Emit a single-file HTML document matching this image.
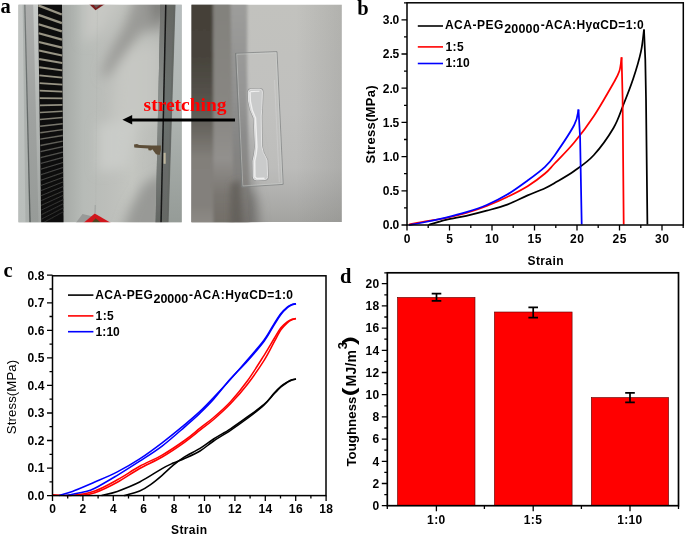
<!DOCTYPE html>
<html><head><meta charset="utf-8"><title>Figure</title>
<style>html,body{margin:0;padding:0;background:#fff}svg{display:block}text{fill:#000}</style></head>
<body>
<svg width="685" height="535" viewBox="0 0 685 535">
<rect width="685" height="535" fill="#fff"/>
<defs>
<clipPath id="cp1"><rect x="18.5" y="4.8" width="163.2" height="217.45"/></clipPath>
<clipPath id="cp2"><rect x="191.5" y="4.8" width="150.3" height="217.45"/></clipPath>
<filter id="bl0" x="-50%" y="-50%" width="200%" height="200%"><feGaussianBlur stdDeviation="0.45"/></filter>
<filter id="bl1" x="-50%" y="-50%" width="200%" height="200%"><feGaussianBlur stdDeviation="0.7"/></filter>
<filter id="bl2" x="-50%" y="-50%" width="200%" height="200%"><feGaussianBlur stdDeviation="1.5"/></filter>
<filter id="bl3" x="-50%" y="-50%" width="200%" height="200%"><feGaussianBlur stdDeviation="3"/></filter>
<filter id="bl5" x="-50%" y="-50%" width="200%" height="200%"><feGaussianBlur stdDeviation="6"/></filter>
<filter id="bl9" x="-50%" y="-50%" width="200%" height="200%"><feGaussianBlur stdDeviation="10"/></filter>
<linearGradient id="w1" gradientUnits="userSpaceOnUse" x1="62" y1="0" x2="160" y2="0"><stop offset="0" stop-color="#a5a8a5"/><stop offset="0.1" stop-color="#adb1ad"/><stop offset="0.22" stop-color="#b7bbb7"/><stop offset="0.45" stop-color="#bcbeba"/><stop offset="0.72" stop-color="#c3c5c0"/><stop offset="1" stop-color="#b9bbb7"/></linearGradient>
<linearGradient id="ls1" x1="0" y1="0" x2="0" y2="1"><stop offset="0" stop-color="#c2c5c3"/><stop offset="1" stop-color="#b9bebb"/></linearGradient>
<linearGradient id="ls2" x1="0" y1="0" x2="0" y2="1"><stop offset="0" stop-color="#adaead"/><stop offset="0.5" stop-color="#9fa2a0"/><stop offset="1" stop-color="#979b98"/></linearGradient>
<linearGradient id="ls3" x1="0" y1="0" x2="0" y2="1"><stop offset="0" stop-color="#c9ccca" stop-opacity="0.95"/><stop offset="0.5" stop-color="#bbbfbc" stop-opacity="0.7"/><stop offset="1" stop-color="#a7aba8" stop-opacity="0.6"/></linearGradient>
<linearGradient id="ln1" x1="0" y1="0" x2="0" y2="1"><stop offset="0" stop-color="#767b7a"/><stop offset="1" stop-color="#545a58"/></linearGradient>
<linearGradient id="rbL" x1="0" y1="0" x2="0" y2="1"><stop offset="0" stop-color="#6e6f6c"/><stop offset="0.45" stop-color="#8b908d"/><stop offset="1" stop-color="#626562"/></linearGradient>
<linearGradient id="rbR" x1="0" y1="0" x2="0" y2="1"><stop offset="0" stop-color="#656763"/><stop offset="0.45" stop-color="#6b716f"/><stop offset="1" stop-color="#656764"/></linearGradient>
<linearGradient id="rs1" x1="0" y1="0" x2="0" y2="1"><stop offset="0" stop-color="#b7bdbe"/><stop offset="0.45" stop-color="#b0b6b3"/><stop offset="1" stop-color="#959b97"/></linearGradient>
<linearGradient id="p2base" x1="0" y1="0" x2="0" y2="1"><stop offset="0" stop-color="#c2c2be"/><stop offset="0.5" stop-color="#c0c0be"/><stop offset="0.75" stop-color="#bcbcba"/><stop offset="0.88" stop-color="#afafad"/><stop offset="1" stop-color="#a3a3a0"/></linearGradient>
<linearGradient id="p2r" x1="0" y1="0" x2="1" y2="0"><stop offset="0" stop-color="#7c7c78" stop-opacity="0"/><stop offset="1" stop-color="#7c7c78" stop-opacity="0.24"/></linearGradient>
<linearGradient id="bA" x1="0" y1="0" x2="0" y2="1"><stop offset="0" stop-color="#433f37"/><stop offset="0.26" stop-color="#47433b"/><stop offset="0.44" stop-color="#55524b"/><stop offset="0.56" stop-color="#66635d"/><stop offset="0.7" stop-color="#827f7a"/><stop offset="0.9" stop-color="#83807b"/><stop offset="1" stop-color="#8f8c88"/></linearGradient>
<linearGradient id="bB" x1="0" y1="0" x2="0" y2="1"><stop offset="0" stop-color="#82817c"/><stop offset="0.5" stop-color="#888682"/><stop offset="0.7" stop-color="#92908d"/><stop offset="0.86" stop-color="#797570"/><stop offset="1" stop-color="#716d67"/></linearGradient>
<linearGradient id="bC" x1="0" y1="0" x2="0" y2="1"><stop offset="0" stop-color="#9e9e9c"/><stop offset="0.45" stop-color="#8f8f8e"/><stop offset="0.6" stop-color="#868685"/><stop offset="0.8" stop-color="#817f7c"/><stop offset="1" stop-color="#73706c"/></linearGradient>
</defs>
<g clip-path="url(#cp1)">
<rect x="18" y="4" width="165" height="220" fill="url(#w1)"/>
<g filter="url(#bl5)">
<path d="M84,-6L122,-6L104,30L84,44Z" fill="#c9cac6" opacity="0.85"/>
<path d="M118,52L160,44L160,122L112,128Z" fill="#c8c9c4" opacity="0.7"/>
<path d="M98,124L136,120L128,168L98,172Z" fill="#cbceca" opacity="0.85"/>
<path d="M136,-8L172,-8L166,30L142,32L128,50L116,66L108,76L102,78L104,66L112,48L124,26Z" fill="#93938f" opacity="0.85"/>
<path d="M150,-8L172,-8L168,18L152,22Z" fill="#7b7b77" opacity="0.8"/>
<path d="M144,184L166,172L164,236L120,236L130,208Z" fill="#939592" opacity="0.9"/>
</g>
<path d="M97.5,5L95.5,222" stroke="#aaada9" stroke-width="0.8" opacity="0.25" filter="url(#bl0)"/>
<g filter="url(#bl0)">
<path d="M18,4L26,4L29,224L18,224Z" fill="url(#ls1)"/>
<path d="M24.8,4L38.2,4L41.6,224L30,224Z" fill="url(#ls2)"/>
<path d="M33.2,4L38.2,4L41.6,224L38.6,224Z" fill="url(#ls3)"/>
<path d="M22.6,4L24.8,4L30,224L25.5,224Z" fill="#a0a5a2" opacity="0.55" filter="url(#bl1)"/>
<path d="M24.8,4L30.1,224" stroke="url(#ln1)" stroke-width="1.3"/>
<path d="M38,4L62,4L63.6,224L41.2,224Z" fill="#0f0f0f"/>
<path d="M38.3,5.4L61.8,14.5" stroke="#989484" stroke-width="2.40"/>
<path d="M38.5,14.9L61.9,23.1" stroke="#989484" stroke-width="2.32"/>
<path d="M38.6,24.2L61.9,31.4" stroke="#989484" stroke-width="2.25"/>
<path d="M38.7,33.2L62.0,39.6" stroke="#989484" stroke-width="2.18"/>
<path d="M38.9,42.0L62.1,47.6" stroke="#989484" stroke-width="2.11"/>
<path d="M39.0,50.6L62.1,55.4" stroke="#989484" stroke-width="2.04"/>
<path d="M39.1,59.0L62.2,63.0" stroke="#989484" stroke-width="1.98"/>
<path d="M39.2,67.2L62.3,70.4" stroke="#989484" stroke-width="1.91"/>
<path d="M39.3,75.3L62.3,77.6" stroke="#989484" stroke-width="1.85"/>
<path d="M39.5,83.1L62.4,84.7" stroke="#989484" stroke-width="1.79"/>
<path d="M39.6,90.7L62.4,91.6" stroke="#989484" stroke-width="1.73"/>
<path d="M39.7,98.1L62.5,98.3" stroke="#989484" stroke-width="1.67"/>
<path d="M39.8,105.4L62.5,104.9" stroke="#928f80" stroke-width="1.61"/>
<path d="M39.9,112.5L62.6,111.3" stroke="#898779" stroke-width="1.56"/>
<path d="M40.0,119.4L62.6,117.6" stroke="#807e72" stroke-width="1.50"/>
<path d="M40.1,126.2L62.7,123.7" stroke="#78766c" stroke-width="1.45"/>
<path d="M40.2,132.8L62.7,129.6" stroke="#706e65" stroke-width="1.40"/>
<path d="M40.3,139.2L62.8,135.5" stroke="#68675f" stroke-width="1.35"/>
<path d="M40.4,145.5L62.8,141.1" stroke="#605f59" stroke-width="1.30"/>
<path d="M40.4,151.6L62.9,146.7" stroke="#585853" stroke-width="1.25"/>
<path d="M40.5,157.6L62.9,152.1" stroke="#51514d" stroke-width="1.20"/>
<path d="M40.6,163.5L63.0,157.4" stroke="#4c4c49" stroke-width="1.16"/>
<path d="M40.7,169.2L63.0,162.5" stroke="#494947" stroke-width="1.11"/>
<path d="M40.8,174.7L63.0,167.6" stroke="#464644" stroke-width="1.07"/>
<path d="M40.9,180.2L63.1,172.5" stroke="#444441" stroke-width="1.03"/>
<path d="M40.9,185.5L63.1,177.3" stroke="#41413f" stroke-width="1.00"/>
<path d="M41.0,190.6L63.2,181.9" stroke="#3e3e3c" stroke-width="1.00"/>
<path d="M41.1,195.7L63.2,186.5" stroke="#3c3c3a" stroke-width="1.00"/>
<path d="M41.2,200.6L63.2,191.0" stroke="#393937" stroke-width="1.00"/>
<path d="M41.2,205.4L63.3,195.3" stroke="#373735" stroke-width="1.00"/>
<path d="M41.3,210.1L63.3,199.6" stroke="#343433" stroke-width="1.00"/>
<path d="M41.4,214.7L63.3,203.7" stroke="#323231" stroke-width="1.00"/>
<path d="M41.4,219.2L63.4,207.8" stroke="#2f2f2e" stroke-width="1.00"/>
<path d="M41.5,223.6L63.4,211.7" stroke="#2d2d2c" stroke-width="1.00"/>
<path d="M160.4,4L175.6,4L168.6,224L155.6,224Z" fill="url(#rbR)"/>
<path d="M160.4,4L165.6,4L160.8,224L155.6,224Z" fill="url(#rbL)"/>
<path d="M175.4,4L183,4L183,224L168.4,224Z" fill="url(#rs1)"/>
<path d="M173.6,4L175.6,4L168.6,224L166.8,224Z" fill="#606461" opacity="0.6"/>
<path d="M165.8,4L161,224" stroke="#161717" stroke-width="1.5"/>
<path d="M89,4L105,4L95.5,10.3Z" fill="#7a1c1e"/>
<path d="M93,4L101,4L96,8Z" fill="#675654"/>
<path d="M75,224L82.5,214L93,216.4L88,224Z" fill="#989a98"/>
<path d="M82.2,224L94.7,213.5L112.8,224Z" fill="#d0161f"/>
<path d="M90.5,224L95.6,218.2L102.6,224Z" fill="#4e4622"/>
<path d="M95.2,205L95,213.4" stroke="#969b98" stroke-width="0.8"/>
<path d="M134,144.6L137,144L139.2,145L152,145.4L160.9,145.6L160.9,150L159.6,154.9L156,154.3L152.3,149.3L151,150.5L148.5,150.3L148.2,148.5L137,147.7L134.3,147.4Z" fill="#5c4e37"/>
<rect x="163.6" y="152.8" width="2.1" height="11" fill="#beb69d"/>
</g>
</g>
<g clip-path="url(#cp2)">
<rect x="191" y="4" width="152" height="218" fill="url(#p2base)"/>
<rect x="296" y="4" width="47" height="218" fill="url(#p2r)"/>
<g filter="url(#bl5)">
<path d="M242,150L249,172L257,204L259,244L232,244Z" fill="#6d6b68" opacity="0.95"/>
<path d="M244,110L256,150L252,190L240,190Z" fill="#939392" opacity="0.6"/>
</g>
<g filter="url(#bl2)">
<path d="M186,-4L247.3,-4L247,70L249.5,228L186,228Z" fill="url(#bC)"/>
</g>
<g filter="url(#bl2)">
<path d="M186,-4L230.3,-4L234,228L186,228Z" fill="url(#bB)"/>
<path d="M186,-4L213,-4L213.4,228L186,228Z" fill="url(#bA)"/>
</g>
<g filter="url(#bl3)">
<path d="M231,184L240,180L243,228L230,228Z" fill="#615d58" opacity="0.85"/>
</g>
<g filter="url(#bl0)">
<path d="M235.6,53.2L277,51.6L283.2,184.4L241.8,187Z" fill="#c8cbca" fill-opacity="0.08" stroke="#848686" stroke-width="0.8"/>
<path d="M236.7,54.3L276.1,52.8L282.1,183.4L242.8,185.9Z" fill="none" stroke="#d6d9d8" stroke-width="0.9" opacity="0.45"/>
<path d="M235.6,53.2L241.8,187" stroke="#787b7a" stroke-width="0.8" fill="none"/>
<path d="M274.5,80L279.3,182" stroke="#d4d5d4" stroke-width="0.9" fill="none" opacity="0.5"/>
<path d="M248.4,92Q248.4,89.6 251,89.4L260,89.2Q262.4,89.2 262.4,92L262,103Q261.8,110 261.2,116L261.6,146Q262.2,152 267,160L267.6,176.5Q267.6,179.2 265.2,179.5L256.5,179.9Q253.4,179.9 253.3,177L253,161Q254.8,154 255.4,147L254.1,118Q249.8,110 248.6,101Z" fill="none" stroke="#8c8d8d" stroke-width="2.4" opacity="0.7"/>
<path d="M248.4,92Q248.4,89.6 251,89.4L260,89.2Q262.4,89.2 262.4,92L262,103Q261.8,110 261.2,116L261.6,146Q262.2,152 267,160L267.6,176.5Q267.6,179.2 265.2,179.5L256.5,179.9Q253.4,179.9 253.3,177L253,161Q254.8,154 255.4,147L254.1,118Q249.8,110 248.6,101Z" fill="#cacbcb" stroke="#e2e2e2" stroke-width="1"/>
<path d="M250.4,91.6L259.5,91.2" fill="none" stroke="#f0f0f0" stroke-width="1.1"/>
<path d="M250,92L250.3,101Q251.4,110 255.5,118L256.9,147Q256.5,154 254.7,161L254.9,177L256.8,178.6L264.5,178.2" fill="none" stroke="#f0f0f0" stroke-width="1.5" opacity="0.95"/>
</g>
</g>
<path d="M235,120.05H130" stroke="#000" stroke-width="3.1"/>
<path d="M122.4,119.8L132.2,115.1L132.2,124.6Z" fill="#000"/>
<text x="143.6" y="110.7" textLength="83" lengthAdjust="spacingAndGlyphs" style="font-family:'Liberation Serif',serif;font-weight:bold;font-size:19.6px;fill:#ff0000">stretching</text>
<g id="pb">
<path d="M428.5,225.0 C431.4,224.2 439.6,221.4 445.9,219.9 C452.2,218.4 459.5,217.3 466.3,215.8 C473.1,214.3 479.9,212.6 486.7,210.7 C493.5,208.8 500.4,207.1 507.2,204.6 C514.0,202.1 521.3,198.1 527.6,195.4 C533.9,192.7 540.5,190.3 545.0,188.2 C549.5,186.1 549.7,185.9 554.6,183.0 C559.5,180.1 567.7,175.7 574.2,171.0 C580.8,166.3 587.4,162.2 593.9,155.0 C600.4,147.8 608.6,136.3 613.5,128.0 C618.4,119.7 620.0,113.2 623.3,105.0 C626.6,96.8 630.1,87.9 633.1,79.0 C636.1,70.1 639.2,59.6 641.0,51.4 C642.8,43.1 643.5,33.1 644.0,29.5" fill="none" stroke="#000" stroke-width="1.75" stroke-linejoin="round"/>
<path d="M644.0,29.5 L645.3,60.0 L646.0,98.5 L647.4,224.5" fill="none" stroke="#000" stroke-width="1.75" stroke-linejoin="round"/>
<path d="M409.0,224.6 C411.7,224.1 419.2,222.5 425.4,221.4 C431.5,220.3 439.1,219.4 445.9,218.0 C452.7,216.6 459.5,215.0 466.3,213.0 C473.1,211.0 479.9,208.7 486.7,206.0 C493.5,203.3 500.4,200.3 507.2,197.0 C514.0,193.7 521.3,190.1 527.6,186.2 C533.9,182.3 540.5,177.3 545.0,173.5 C549.5,169.7 549.7,168.7 554.6,163.5 C559.5,158.3 567.7,150.4 574.2,142.5 C580.8,134.6 587.4,125.9 593.9,116.0 C600.4,106.1 609.2,90.5 613.5,83.0 C617.8,75.5 618.0,75.3 619.4,71.0 C620.8,66.7 621.2,59.6 621.6,57.3" fill="none" stroke="#ff0000" stroke-width="1.75" stroke-linejoin="round"/>
<path d="M621.6,57.3 L622.6,98.5 L623.7,224.5" fill="none" stroke="#ff0000" stroke-width="1.75" stroke-linejoin="round"/>
<path d="M409.0,225.0 C411.7,224.5 419.2,223.2 425.4,222.0 C431.5,220.8 439.1,219.2 445.9,217.6 C452.7,216.0 459.5,214.3 466.3,212.2 C473.1,210.1 479.9,207.9 486.7,205.0 C493.5,202.1 500.4,198.7 507.2,194.6 C514.0,190.5 521.3,185.1 527.6,180.5 C533.9,175.9 540.5,171.0 545.0,166.8 C549.5,162.6 549.7,162.4 554.6,155.4 C559.5,148.4 570.2,132.7 574.2,125.0 C578.2,117.3 577.8,112.1 578.5,109.5" fill="none" stroke="#0000ff" stroke-width="1.75" stroke-linejoin="round"/>
<path d="M578.5,109.5 L580.1,137.7 L581.7,224.5" fill="none" stroke="#0000ff" stroke-width="1.75" stroke-linejoin="round"/>
<rect x="407.0" y="2.8" width="276.29999999999995" height="222.2" fill="none" stroke="#000" stroke-width="1.5"/>
<path d="M407.0,225.0h-5.5M407.0,190.8h-5.5M407.0,156.6h-5.5M407.0,122.4h-5.5M407.0,88.2h-5.5M407.0,54.0h-5.5M407.0,19.8h-5.5M407.0,207.9h-3M407.0,173.7h-3M407.0,139.5h-3M407.0,105.3h-3M407.0,71.1h-3M407.0,36.9h-3M407.0,2.8h-3M407.0,225.0v5.5M449.5,225.0v5.5M492.0,225.0v5.5M534.5,225.0v5.5M577.0,225.0v5.5M619.5,225.0v5.5M662.0,225.0v5.5M428.2,225.0v3M470.8,225.0v3M513.2,225.0v3M555.8,225.0v3M598.2,225.0v3M640.8,225.0v3M683.2,225.0v3" stroke="#000" stroke-width="1.3" fill="none"/>
<text x="399.3" y="229.3" text-anchor="end" textLength="16.5" lengthAdjust="spacing" style="font-family:'Liberation Sans',sans-serif;font-weight:bold;font-size:12px">0.0</text>
<text x="399.3" y="195.1" text-anchor="end" textLength="16.5" lengthAdjust="spacing" style="font-family:'Liberation Sans',sans-serif;font-weight:bold;font-size:12px">0.5</text>
<text x="399.3" y="160.9" text-anchor="end" textLength="16.5" lengthAdjust="spacing" style="font-family:'Liberation Sans',sans-serif;font-weight:bold;font-size:12px">1.0</text>
<text x="399.3" y="126.7" text-anchor="end" textLength="16.5" lengthAdjust="spacing" style="font-family:'Liberation Sans',sans-serif;font-weight:bold;font-size:12px">1.5</text>
<text x="399.3" y="92.5" text-anchor="end" textLength="16.5" lengthAdjust="spacing" style="font-family:'Liberation Sans',sans-serif;font-weight:bold;font-size:12px">2.0</text>
<text x="399.3" y="58.3" text-anchor="end" textLength="16.5" lengthAdjust="spacing" style="font-family:'Liberation Sans',sans-serif;font-weight:bold;font-size:12px">2.5</text>
<text x="399.3" y="24.1" text-anchor="end" textLength="16.5" lengthAdjust="spacing" style="font-family:'Liberation Sans',sans-serif;font-weight:bold;font-size:12px">3.0</text>
<text x="407.0" y="242.5" text-anchor="middle" textLength="6.9" lengthAdjust="spacing" style="font-family:'Liberation Sans',sans-serif;font-weight:bold;font-size:12px">0</text>
<text x="449.5" y="242.5" text-anchor="middle" textLength="6.9" lengthAdjust="spacing" style="font-family:'Liberation Sans',sans-serif;font-weight:bold;font-size:12px">5</text>
<text x="492.0" y="242.5" text-anchor="middle" textLength="13.8" lengthAdjust="spacing" style="font-family:'Liberation Sans',sans-serif;font-weight:bold;font-size:12px">10</text>
<text x="534.5" y="242.5" text-anchor="middle" textLength="13.8" lengthAdjust="spacing" style="font-family:'Liberation Sans',sans-serif;font-weight:bold;font-size:12px">15</text>
<text x="577.0" y="242.5" text-anchor="middle" textLength="13.8" lengthAdjust="spacing" style="font-family:'Liberation Sans',sans-serif;font-weight:bold;font-size:12px">20</text>
<text x="619.5" y="242.5" text-anchor="middle" textLength="13.8" lengthAdjust="spacing" style="font-family:'Liberation Sans',sans-serif;font-weight:bold;font-size:12px">25</text>
<text x="662.0" y="242.5" text-anchor="middle" textLength="13.8" lengthAdjust="spacing" style="font-family:'Liberation Sans',sans-serif;font-weight:bold;font-size:12px">30</text>
<text x="545.5" y="265.2" text-anchor="middle" textLength="36" lengthAdjust="spacing" style="font-family:'Liberation Sans',sans-serif;font-weight:bold;font-size:12px">Strain</text>
<text transform="translate(374.7,124.5) rotate(-90)" text-anchor="middle" textLength="78" lengthAdjust="spacing" style="font-family:'Liberation Sans',sans-serif;font-weight:bold;font-size:13px">Stress(MPa)</text>
<path d="M417.8,26H443" stroke="#000" stroke-width="1.6"/>
<path d="M417.8,46.9H443" stroke="#ff0000" stroke-width="1.6"/>
<path d="M417.8,63.5H443" stroke="#0000ff" stroke-width="1.6"/>
<text x="444.9" y="29.4" textLength="58.5" lengthAdjust="spacing" style="font-family:'Liberation Sans',sans-serif;font-weight:bold;font-size:12px">ACA-PEG</text>
<text x="504.2" y="32.8" textLength="35.4" lengthAdjust="spacing" style="font-family:'Liberation Sans',sans-serif;font-weight:bold;font-size:12px;font-size:12.5px">20000</text>
<text x="540.7" y="29.4" textLength="103" lengthAdjust="spacing" style="font-family:'Liberation Sans',sans-serif;font-weight:bold;font-size:12px">-ACA:HyαCD=1:0</text>
<text x="445.4" y="50.8" textLength="18.2" lengthAdjust="spacing" style="font-family:'Liberation Sans',sans-serif;font-weight:bold;font-size:12px">1:5</text>
<text x="445.4" y="66.9" textLength="24.2" lengthAdjust="spacing" style="font-family:'Liberation Sans',sans-serif;font-weight:bold;font-size:12px">1:10</text>
</g>
<g id="pc">
<path d="M101.6,495.5 C104.2,494.8 111.0,493.6 117.3,491.4 C123.6,489.1 132.2,485.8 139.7,482.0 C147.2,478.2 156.5,471.8 162.1,468.6 C167.7,465.4 169.6,464.7 173.3,463.0 C177.0,461.3 180.1,460.5 184.5,458.5 C188.9,456.5 195.2,453.9 200.0,451.0 C204.8,448.1 208.5,444.4 213.6,441.0 C218.7,437.6 224.9,434.1 230.5,430.3 C236.1,426.6 241.7,422.7 247.3,418.5 C252.9,414.3 259.6,409.1 264.1,404.9 C268.6,400.6 271.4,396.1 274.2,393.0 C277.0,389.9 278.7,388.2 280.9,386.3 C283.1,384.4 285.8,382.9 287.6,381.8 C289.5,380.7 290.6,380.2 292.0,379.8 C293.4,379.4 295.3,379.2 296.0,379.1" fill="none" stroke="#000" stroke-width="1.55" stroke-linejoin="round"/>
<path d="M296.0,379.1 C295.3,379.2 293.4,379.5 292.0,380.0 C290.6,380.5 289.5,381.0 287.6,382.2 C285.8,383.4 283.1,385.1 280.9,387.0 C278.7,388.9 277.0,390.9 274.2,393.8 C271.4,396.7 268.6,400.5 264.1,404.4 C259.6,408.3 252.9,412.9 247.3,417.0 C241.7,421.1 236.1,425.1 230.5,428.8 C224.9,432.5 218.7,435.7 213.6,439.0 C208.5,442.3 204.8,445.4 200.0,448.4 C195.2,451.4 188.9,454.1 184.5,456.9 C180.1,459.7 177.0,462.1 173.3,465.2 C169.6,468.3 165.8,472.1 162.1,475.3 C158.4,478.5 154.6,481.7 150.9,484.3 C147.2,486.9 144.2,489.1 139.7,491.0 C135.2,492.9 126.6,494.8 124.0,495.5" fill="none" stroke="#000" stroke-width="1.55" stroke-linejoin="round"/>
<path d="M53.0,494.8 C56.2,494.9 65.4,495.9 72.4,495.3 C79.4,494.7 87.3,493.6 94.8,491.0 C102.3,488.4 109.8,483.9 117.3,479.8 C124.8,475.7 132.2,470.4 139.7,466.3 C147.2,462.2 154.6,459.4 162.1,455.1 C169.6,450.8 178.2,445.0 184.5,440.5 C190.8,436.0 195.2,432.0 200.0,428.2 C204.8,424.4 208.5,421.9 213.6,417.5 C218.7,413.1 224.9,407.8 230.5,401.7 C236.1,395.6 241.7,388.7 247.3,381.0 C252.9,373.3 259.6,362.4 264.1,355.3 C268.6,348.2 271.4,343.1 274.2,338.5 C277.0,333.9 278.7,330.5 280.9,327.7 C283.1,324.9 285.8,322.9 287.6,321.5 C289.5,320.1 290.6,319.8 292.0,319.3 C293.4,318.8 295.3,318.7 296.0,318.6" fill="none" stroke="#ff0000" stroke-width="1.55" stroke-linejoin="round"/>
<path d="M296.0,318.6 C295.3,318.8 293.4,319.1 292.0,319.8 C290.6,320.5 289.5,320.9 287.6,322.6 C285.8,324.3 283.1,326.6 280.9,329.8 C278.7,333.0 277.0,336.7 274.2,341.8 C271.4,346.9 268.6,353.2 264.1,360.3 C259.6,367.4 252.9,377.2 247.3,384.5 C241.7,391.8 236.1,398.0 230.5,403.8 C224.9,409.6 218.7,415.1 213.6,419.5 C208.5,423.9 204.8,426.4 200.0,430.2 C195.2,434.0 190.8,437.8 184.5,442.3 C178.2,446.8 169.6,452.6 162.1,457.0 C154.6,461.4 147.2,464.3 139.7,468.5 C132.2,472.7 124.8,478.2 117.3,482.3 C109.8,486.4 101.0,490.6 94.8,492.8 C88.6,495.0 82.5,495.1 80.0,495.5" fill="none" stroke="#ff0000" stroke-width="1.55" stroke-linejoin="round"/>
<path d="M59.0,495.5 C61.2,494.8 66.4,493.6 72.4,491.4 C78.4,489.1 87.3,485.2 94.8,482.0 C102.3,478.8 109.8,475.8 117.3,471.9 C124.8,468.0 132.2,463.8 139.7,458.9 C147.2,454.0 154.6,448.5 162.1,442.8 C169.6,437.1 178.2,430.0 184.5,424.8 C190.8,419.6 195.2,415.9 200.0,411.4 C204.8,406.9 208.5,403.0 213.6,397.6 C218.7,392.2 224.9,385.6 230.5,379.3 C236.1,373.0 241.7,366.6 247.3,360.0 C252.9,353.4 259.6,346.1 264.1,340.0 C268.6,333.9 271.4,328.0 274.2,323.6 C277.0,319.2 278.7,316.3 280.9,313.5 C283.1,310.7 285.8,308.3 287.6,306.8 C289.5,305.3 290.6,305.0 292.0,304.5 C293.4,304.0 295.3,303.9 296.0,303.8" fill="none" stroke="#0000ff" stroke-width="1.55" stroke-linejoin="round"/>
<path d="M296.0,303.8 C295.3,304.0 293.4,304.2 292.0,304.8 C290.6,305.4 289.5,305.9 287.6,307.5 C285.8,309.1 283.1,311.6 280.9,314.5 C278.7,317.4 277.0,320.4 274.2,324.8 C271.4,329.2 268.6,335.1 264.1,341.2 C259.6,347.3 252.9,354.9 247.3,361.2 C241.7,367.5 236.1,372.5 230.5,378.8 C224.9,385.1 218.7,393.5 213.6,399.2 C208.5,404.9 204.8,408.5 200.0,413.2 C195.2,417.9 190.8,421.6 184.5,427.1 C178.2,432.6 169.6,440.4 162.1,446.1 C154.6,451.8 147.2,456.3 139.7,461.2 C132.2,466.1 124.8,470.8 117.3,475.3 C109.8,479.8 100.4,485.5 94.8,488.3 C89.2,491.1 88.4,490.9 83.6,492.1 C78.8,493.3 68.7,494.9 65.7,495.5" fill="none" stroke="#0000ff" stroke-width="1.55" stroke-linejoin="round"/>
<rect x="52.5" y="275.8" width="273.5" height="219.8" fill="none" stroke="#000" stroke-width="1.5"/>
<path d="M52.5,495.6h-5.5M52.5,468.1h-5.5M52.5,440.5h-5.5M52.5,413.0h-5.5M52.5,385.4h-5.5M52.5,357.9h-5.5M52.5,330.3h-5.5M52.5,302.8h-5.5M52.5,275.2h-5.5M52.5,481.8h-3M52.5,454.3h-3M52.5,426.7h-3M52.5,399.2h-3M52.5,371.6h-3M52.5,344.1h-3M52.5,316.5h-3M52.5,289.0h-3M52.5,495.6v5.5M82.9,495.6v5.5M113.3,495.6v5.5M143.7,495.6v5.5M174.1,495.6v5.5M204.5,495.6v5.5M234.9,495.6v5.5M265.3,495.6v5.5M295.7,495.6v5.5M326.1,495.6v5.5M67.7,495.6v3M98.1,495.6v3M128.5,495.6v3M158.9,495.6v3M189.3,495.6v3M219.7,495.6v3M250.1,495.6v3M280.5,495.6v3M310.9,495.6v3" stroke="#000" stroke-width="1.3" fill="none"/>
<text x="44.5" y="499.9" text-anchor="end" textLength="17" lengthAdjust="spacing" style="font-family:'Liberation Sans',sans-serif;font-weight:bold;font-size:12px">0.0</text>
<text x="44.5" y="472.4" text-anchor="end" textLength="17" lengthAdjust="spacing" style="font-family:'Liberation Sans',sans-serif;font-weight:bold;font-size:12px">0.1</text>
<text x="44.5" y="444.8" text-anchor="end" textLength="17" lengthAdjust="spacing" style="font-family:'Liberation Sans',sans-serif;font-weight:bold;font-size:12px">0.2</text>
<text x="44.5" y="417.3" text-anchor="end" textLength="17" lengthAdjust="spacing" style="font-family:'Liberation Sans',sans-serif;font-weight:bold;font-size:12px">0.3</text>
<text x="44.5" y="389.7" text-anchor="end" textLength="17" lengthAdjust="spacing" style="font-family:'Liberation Sans',sans-serif;font-weight:bold;font-size:12px">0.4</text>
<text x="44.5" y="362.2" text-anchor="end" textLength="17" lengthAdjust="spacing" style="font-family:'Liberation Sans',sans-serif;font-weight:bold;font-size:12px">0.5</text>
<text x="44.5" y="334.6" text-anchor="end" textLength="17" lengthAdjust="spacing" style="font-family:'Liberation Sans',sans-serif;font-weight:bold;font-size:12px">0.6</text>
<text x="44.5" y="307.1" text-anchor="end" textLength="17" lengthAdjust="spacing" style="font-family:'Liberation Sans',sans-serif;font-weight:bold;font-size:12px">0.7</text>
<text x="44.5" y="279.5" text-anchor="end" textLength="17" lengthAdjust="spacing" style="font-family:'Liberation Sans',sans-serif;font-weight:bold;font-size:12px">0.8</text>
<text x="52.5" y="513" text-anchor="middle" textLength="6.9" lengthAdjust="spacing" style="font-family:'Liberation Sans',sans-serif;font-weight:bold;font-size:12px">0</text>
<text x="82.9" y="513" text-anchor="middle" textLength="6.9" lengthAdjust="spacing" style="font-family:'Liberation Sans',sans-serif;font-weight:bold;font-size:12px">2</text>
<text x="113.3" y="513" text-anchor="middle" textLength="6.9" lengthAdjust="spacing" style="font-family:'Liberation Sans',sans-serif;font-weight:bold;font-size:12px">4</text>
<text x="143.7" y="513" text-anchor="middle" textLength="6.9" lengthAdjust="spacing" style="font-family:'Liberation Sans',sans-serif;font-weight:bold;font-size:12px">6</text>
<text x="174.1" y="513" text-anchor="middle" textLength="6.9" lengthAdjust="spacing" style="font-family:'Liberation Sans',sans-serif;font-weight:bold;font-size:12px">8</text>
<text x="204.5" y="513" text-anchor="middle" textLength="13.8" lengthAdjust="spacing" style="font-family:'Liberation Sans',sans-serif;font-weight:bold;font-size:12px">10</text>
<text x="234.9" y="513" text-anchor="middle" textLength="13.8" lengthAdjust="spacing" style="font-family:'Liberation Sans',sans-serif;font-weight:bold;font-size:12px">12</text>
<text x="265.3" y="513" text-anchor="middle" textLength="13.8" lengthAdjust="spacing" style="font-family:'Liberation Sans',sans-serif;font-weight:bold;font-size:12px">14</text>
<text x="295.7" y="513" text-anchor="middle" textLength="13.8" lengthAdjust="spacing" style="font-family:'Liberation Sans',sans-serif;font-weight:bold;font-size:12px">16</text>
<text x="326.1" y="513" text-anchor="middle" textLength="13.8" lengthAdjust="spacing" style="font-family:'Liberation Sans',sans-serif;font-weight:bold;font-size:12px">18</text>
<text x="189" y="534.3" text-anchor="middle" textLength="36" lengthAdjust="spacing" style="font-family:'Liberation Sans',sans-serif;font-weight:bold;font-size:12px">Strain</text>
<text transform="translate(16.3,397) rotate(-90)" text-anchor="middle" textLength="74.3" lengthAdjust="spacing" style="font-family:'Liberation Sans',sans-serif;font-size:13.2px">Stress(MPa)</text>
<path d="M68,295.1H93.4" stroke="#000" stroke-width="1.6"/>
<path d="M68,315.9H93.4" stroke="#ff0000" stroke-width="1.6"/>
<path d="M68,331.7H93.4" stroke="#0000ff" stroke-width="1.6"/>
<text x="95.3" y="298.8" textLength="57.5" lengthAdjust="spacing" style="font-family:'Liberation Sans',sans-serif;font-weight:bold;font-size:12px">ACA-PEG</text>
<text x="153.6" y="302.5" textLength="34.5" lengthAdjust="spacing" style="font-family:'Liberation Sans',sans-serif;font-weight:bold;font-size:12px;font-size:12.5px">20000</text>
<text x="189" y="298.8" textLength="104" lengthAdjust="spacing" style="font-family:'Liberation Sans',sans-serif;font-weight:bold;font-size:12px">-ACA:HyαCD=1:0</text>
<text x="95.6" y="319.9" textLength="18.2" lengthAdjust="spacing" style="font-family:'Liberation Sans',sans-serif;font-weight:bold;font-size:12px">1:5</text>
<text x="95.6" y="335.9" textLength="24.2" lengthAdjust="spacing" style="font-family:'Liberation Sans',sans-serif;font-weight:bold;font-size:12px">1:10</text>
</g>
<g id="pd">
<rect x="397.5" y="297.4" width="77.5" height="208.3" fill="#ff0000" stroke="#5a0000" stroke-width="0.6"/>
<rect x="494.4" y="312.0" width="77.7" height="193.7" fill="#ff0000" stroke="#5a0000" stroke-width="0.6"/>
<rect x="591.3" y="397.5" width="77.3" height="108.2" fill="#ff0000" stroke="#5a0000" stroke-width="0.6"/>
<path d="M436.5,293.6V300.9M431.7,293.6h9.6M431.7,300.9h9.6M533.2,307.4V317.6M528.4000000000001,307.4h9.6M528.4000000000001,317.6h9.6M630.0,392.8V402.4M625.2,392.8h9.6M625.2,402.4h9.6" stroke="#000" stroke-width="1.7" fill="none"/>
<rect x="387.3" y="272.8" width="291.2" height="232.9" fill="none" stroke="#000" stroke-width="1.7"/>
<path d="M387.3,505.7h-5.5M387.3,483.5h-5.5M387.3,461.3h-5.5M387.3,439.1h-5.5M387.3,416.9h-5.5M387.3,394.7h-5.5M387.3,372.5h-5.5M387.3,350.3h-5.5M387.3,328.1h-5.5M387.3,305.9h-5.5M387.3,283.7h-5.5M387.3,494.6h-3M387.3,472.4h-3M387.3,450.2h-3M387.3,428.0h-3M387.3,405.8h-3M387.3,383.6h-3M387.3,361.4h-3M387.3,339.2h-3M387.3,317.0h-3M387.3,294.8h-3M387.3,272.8h-3M436.4,505.7v5.5M533.2,505.7v5.5M630.0,505.7v5.5M387.3,505.7v3.2M484.4,505.7v3.2M581.4,505.7v3.2M678.5,505.7v3.2" stroke="#000" stroke-width="1.3" fill="none"/>
<text x="379.3" y="510.0" text-anchor="end" textLength="6.9" lengthAdjust="spacing" style="font-family:'Liberation Sans',sans-serif;font-weight:bold;font-size:12px">0</text>
<text x="379.3" y="487.8" text-anchor="end" textLength="6.9" lengthAdjust="spacing" style="font-family:'Liberation Sans',sans-serif;font-weight:bold;font-size:12px">2</text>
<text x="379.3" y="465.6" text-anchor="end" textLength="6.9" lengthAdjust="spacing" style="font-family:'Liberation Sans',sans-serif;font-weight:bold;font-size:12px">4</text>
<text x="379.3" y="443.4" text-anchor="end" textLength="6.9" lengthAdjust="spacing" style="font-family:'Liberation Sans',sans-serif;font-weight:bold;font-size:12px">6</text>
<text x="379.3" y="421.2" text-anchor="end" textLength="6.9" lengthAdjust="spacing" style="font-family:'Liberation Sans',sans-serif;font-weight:bold;font-size:12px">8</text>
<text x="379.3" y="399.0" text-anchor="end" textLength="13.8" lengthAdjust="spacing" style="font-family:'Liberation Sans',sans-serif;font-weight:bold;font-size:12px">10</text>
<text x="379.3" y="376.8" text-anchor="end" textLength="13.8" lengthAdjust="spacing" style="font-family:'Liberation Sans',sans-serif;font-weight:bold;font-size:12px">12</text>
<text x="379.3" y="354.6" text-anchor="end" textLength="13.8" lengthAdjust="spacing" style="font-family:'Liberation Sans',sans-serif;font-weight:bold;font-size:12px">14</text>
<text x="379.3" y="332.4" text-anchor="end" textLength="13.8" lengthAdjust="spacing" style="font-family:'Liberation Sans',sans-serif;font-weight:bold;font-size:12px">16</text>
<text x="379.3" y="310.2" text-anchor="end" textLength="13.8" lengthAdjust="spacing" style="font-family:'Liberation Sans',sans-serif;font-weight:bold;font-size:12px">18</text>
<text x="379.3" y="288.0" text-anchor="end" textLength="13.8" lengthAdjust="spacing" style="font-family:'Liberation Sans',sans-serif;font-weight:bold;font-size:12px">20</text>
<text x="436.2" y="524.1" text-anchor="middle" textLength="18.2" lengthAdjust="spacing" style="font-family:'Liberation Sans',sans-serif;font-weight:bold;font-size:12px">1:0</text>
<text x="532.8" y="524.1" text-anchor="middle" textLength="18.2" lengthAdjust="spacing" style="font-family:'Liberation Sans',sans-serif;font-weight:bold;font-size:12px">1:5</text>
<text x="629.8" y="524.1" text-anchor="middle" textLength="25" lengthAdjust="spacing" style="font-family:'Liberation Sans',sans-serif;font-weight:bold;font-size:12px">1:10</text>
<g transform="translate(355.7,466.6) rotate(-90)"><text x="0" y="0" textLength="70" lengthAdjust="spacing" style="font-family:'Liberation Sans',sans-serif;font-weight:bold;font-size:13.2px">Toughness</text><text transform="translate(70.3,-0.3) scale(1.5,1)" style="font-family:'Liberation Sans',sans-serif;font-weight:bold;font-size:13.2px;font-size:17.5px">(</text><text x="80.2" y="0" textLength="36.4" lengthAdjust="spacing" style="font-family:'Liberation Sans',sans-serif;font-weight:bold;font-size:13.2px;font-size:14px">MJ/m</text><text x="117.4" y="-8.4" style="font-family:'Liberation Sans',sans-serif;font-weight:bold;font-size:13.2px;font-size:13.2px">3</text><text transform="translate(121.5,-0.3) scale(1.5,1)" style="font-family:'Liberation Sans',sans-serif;font-weight:bold;font-size:13.2px;font-size:17.5px">)</text></g>
</g>
<text x="0.5" y="12.7" style="font-family:'Liberation Serif',serif;font-weight:bold;font-size:20.5px">a</text>
<text x="357.3" y="15" style="font-family:'Liberation Serif',serif;font-weight:bold;font-size:20.5px">b</text>
<text x="3.6" y="277" style="font-family:'Liberation Serif',serif;font-weight:bold;font-size:20.5px">c</text>
<text x="340" y="283" style="font-family:'Liberation Serif',serif;font-weight:bold;font-size:20.5px">d</text>
</svg>
</body></html>
